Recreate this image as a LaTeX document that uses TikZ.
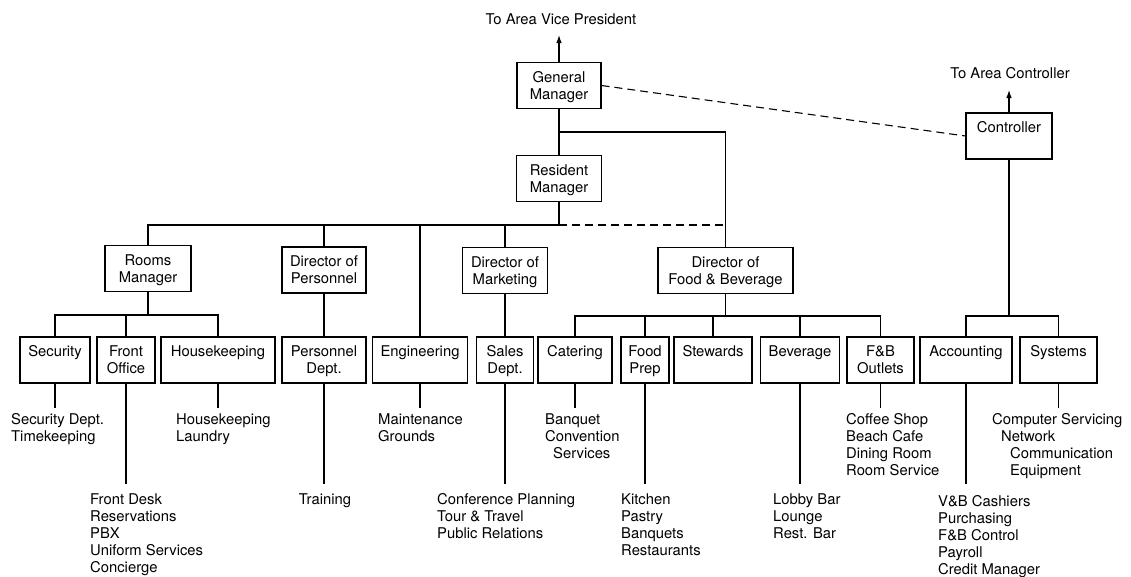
\documentclass[tikz,border=0pt]{standalone}
\usepackage{fontspec}
\setmainfont{TeX Gyre Heros}
\usetikzlibrary{arrows.meta}
% line strut: fixes height/depth of each line inside the boxes
\newcommand\ls{\rule[-2.7pt]{0pt}{16pt}}
\tikzset{
  chart/.style={line width=1.1pt, line cap=butt},
  box/.style={draw, line width=1.1pt, align=center, inner sep=0pt, minimum height=46pt},
  list/.style={anchor=north west, align=left, inner sep=0pt},
  dashline/.style={line width=1.1pt, dash pattern=on 8pt off 5pt},
  up/.style={-{Latex[length=8pt,width=5.5pt]}}
}
\begin{document}
\begin{tikzpicture}[x=1pt,y=-1pt,font=\fontsize{14.8}{17}\selectfont]
\useasboundingbox (0,0) rectangle (1131,576);

% top management
\node[box, minimum width=84pt] (gm) at (559,85.5) {\ls General\\\ls Manager};
\node[box, minimum width=85pt] (rm) at (559,178.5) {\ls Resident\\\ls Manager};
\node[box, minimum width=86pt] (ctrl) at (1009,136) {\ls Controller\\\ls};
\node (vp) at (561,19) {To Area Vice President};
\node (ac) at (1010,73) {To Area Controller};
\coordinate (vpEnd) at (559,35);
\coordinate (acEnd) at (1009,90);

% department heads
\node[box, minimum width=86pt] (rooms) at (148,268.5) {\ls Rooms\\\ls Manager};
\node[box, minimum width=84pt] (pers) at (324,270) {\ls Director of\\\ls Personnel};
\node[box, minimum width=85pt] (mkt) at (505,270.5) {\ls Director of\\\ls Marketing};
\node[box, minimum width=135pt] (fb) at (725.5,270.5) {\ls Director of\\\ls Food \& Beverage};

% departments
\node[box, minimum width=70pt] (sec) at (55,360) {\ls Security\\\ls};
\node[box, minimum width=58pt] (fo) at (126,360) {\ls Front\\\ls Office};
\node[box, minimum width=114pt] (hk) at (218,360) {\ls Housekeeping\\\ls};
\node[box, minimum width=84pt] (pdept) at (324,360) {\ls Personnel\\\ls Dept.};
\node[box, minimum width=95pt] (eng) at (420,360) {\ls Engineering\\\ls};
\node[box, minimum width=57pt] (sales) at (505,360) {\ls Sales\\\ls Dept.};
\node[box, minimum width=74pt] (cat) at (575,360) {\ls Catering\\\ls};
\node[box, minimum width=48pt] (fp) at (645,360) {\ls Food\\\ls Prep};
\node[box, minimum width=78pt] (stew) at (713,360) {\ls Stewards\\\ls};
\node[box, minimum width=79pt] (bev) at (800,360) {\ls Beverage\\\ls};
\node[box, minimum width=67pt] (fbo) at (880.5,360) {\ls F\&B\\\ls Outlets};
\node[box, minimum width=92pt] (acc) at (966,360) {\ls Accounting\\\ls};
\node[box, minimum width=77pt] (sys) at (1058.5,360) {\ls Systems\\\ls};

% sections under each department
\node[list] (secL) at (11,413.5) {Security Dept.\\Timekeeping};
\node[list] (foL) at (90,493.5) {Front Desk\\Reservations\\PBX\\Uniform Services\\Concierge};
\node[list] (hkL) at (176,413.5) {Housekeeping\\Laundry};
\node[list, anchor=north] (trL) at (325,493.5) {Training};
\node[list] (engL) at (378,413.5) {Maintenance\\Grounds};
\node[list] (salesL) at (437,493.5) {Conference Planning\\Tour \& Travel\\Public Relations};
\node[list] (catL) at (545,413.5) {Banquet\\Convention\\\hspace*{8pt}Services};
\node[list] (fpL) at (621,493.5) {Kitchen\\Pastry\\Banquets\\Restaurants};
\node[list] (bevL) at (773,493.5) {Lobby Bar\\Lounge\\Rest. Bar};
\node[list] (fboL) at (846,413.5) {Coffee Shop\\Beach Cafe\\Dining Room\\Room Service};
\node[list] (accL) at (938,495.5) {V\&B Cashiers\\Purchasing\\F\&B Control\\Payroll\\Credit Manager};
\node[list] (sysL) at (992,413.5) {Computer Servicing\\\hspace*{9pt}Network\\\hspace*{18pt}Communication\\\hspace*{18pt}Equipment};

% junctions
\coordinate (j0) at (559,132);
\coordinate (b0) at (559,225);
\coordinate (b1) at (148,315);
\coordinate (b2) at (725.5,316);
\coordinate (b3) at (1009,316);
\coordinate (short) at (0,408);
\coordinate (long) at (0,484);

% reporting lines
\draw[chart, up] (gm.north) -- (vpEnd);
\draw[chart, up] (ctrl.north) -- (acEnd);
\draw[chart] (gm.south) -- (rm.north);
\draw[chart] (j0) -| (fb.north);
\draw[dashline] (gm.east) -- (ctrl.west);
\draw[chart] (rm.south) -- (b0);
\draw[chart] (rooms.north) |- (b0);
\draw[dashline] (b0) -- (fb.north |- b0);
\draw[chart] (pers.north) -- (pers.north |- b0);
\draw[chart] (eng.north) -- (eng.north |- b0);
\draw[chart] (mkt.north) -- (mkt.north |- b0);

\draw[chart] (rooms.south) -- (b1);
\draw[chart] (sec.north) |- (b1) -| (hk.north);
\draw[chart] (fo.north) -- (fo.north |- b1);
\draw[chart] (pers.south) -- (pdept.north);
\draw[chart] (mkt.south) -- (sales.north);
\draw[chart] (fb.south) -- (b2);
\draw[chart] (cat.north) |- (b2) -| (fbo.north);
\draw[chart] (fp.north) -- (fp.north |- b2);
\draw[chart] (stew.north) -- (stew.north |- b2);
\draw[chart] (bev.north) -- (bev.north |- b2);
\draw[chart] (ctrl.south) -- (b3);
\draw[chart] (acc.north) |- (b3) -| (sys.north);

\draw[chart] (sec.south) -- (sec.south |- short);
\draw[chart] (fo.south) -- (fo.south |- long);
\draw[chart] (hk.south) -- (hk.south |- short);
\draw[chart] (pdept.south) -- (pdept.south |- long);
\draw[chart] (eng.south) -- (eng.south |- short);
\draw[chart] (sales.south) -- (sales.south |- long);
\draw[chart] (cat.south) -- (cat.south |- short);
\draw[chart] (fp.south) -- (fp.south |- long);
\draw[chart] (bev.south) -- (bev.south |- long);
\draw[chart] (fbo.south) -- (fbo.south |- short);
\draw[chart] (acc.south) -- (acc.south |- long);
\draw[chart] (sys.south) -- (sys.south |- short);
\end{tikzpicture}
\end{document}
